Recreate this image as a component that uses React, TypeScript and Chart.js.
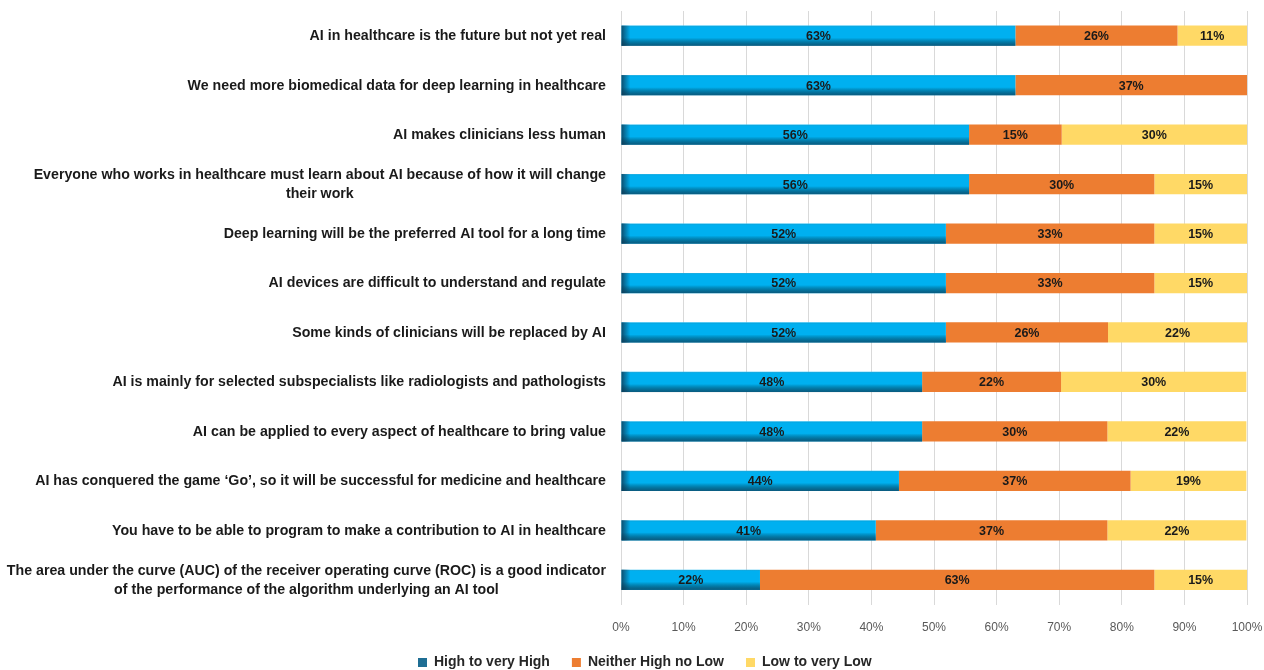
import React, { useEffect, useRef } from "react";
import { Chart, registerables } from "chart.js";

Chart.register(...registerables);

const categories: (string | string[])[] = [
  "AI in healthcare is the future but not yet real",
  "We need more biomedical data for deep learning in healthcare",
  "AI makes clinicians less human",
  ["Everyone who works in healthcare must learn about AI because of how it will change", "their work"],
  "Deep learning will be the preferred AI tool for a long time",
  "AI devices are difficult to understand and regulate",
  "Some kinds of clinicians will be replaced by AI",
  "AI is mainly for selected subspecialists like radiologists and pathologists",
  "AI can be applied to every aspect of healthcare to bring value",
  "AI has conquered the game \u2018Go\u2019, so it will be successful for medicine and healthcare",
  "You have to be able to program to make a contribution to AI in healthcare",
  ["The area under the curve (AUC) of the receiver operating curve (ROC) is a good indicator", "of the performance of the algorithm underlying an AI tool"],
];

const highValues = [63.0, 63.0, 55.6, 55.6, 51.9, 51.9, 51.9, 48.1, 48.1, 44.4, 40.7, 22.2];
const neitherValues = [25.9, 37.0, 14.8, 29.6, 33.3, 33.3, 25.9, 22.2, 29.6, 37.0, 37.0, 63.0];
const lowValues = [11.1, 0, 29.6, 14.8, 14.8, 14.8, 22.2, 29.6, 22.2, 18.5, 22.2, 14.8];

const seriesNames = ["High to very High", "Neither High no Low", "Low to very Low"];
const xTicks = [0, 10, 20, 30, 40, 50, 60, 70, 80, 90, 100];

const FONT = "'Liberation Sans', Arial, sans-serif";

const yLabelPlugin = {
  id: "yLabels",
  afterDraw(chart: any) {
    const ctx = chart.ctx;
    const y = chart.scales.y;
    const labels = chart.data.labels as (string | string[])[];
    ctx.save();
    ctx.font = `bold 14.2px ${FONT}`;
    ctx.fillStyle = "#1a1a1a";
    ctx.textBaseline = "middle";
    const rightX = chart.chartArea.left - 15;
    labels.forEach((lab, i) => {
      const lines = Array.isArray(lab) ? lab : [lab];
      const cy = y.getPixelForValue(i);
      const lh = 19;
      const startY = cy - ((lines.length - 1) * lh) / 2 + 0.5;
      const w1 = ctx.measureText(lines[0]).width;
      lines.forEach((line, j) => {
        if (j === 0) {
          ctx.textAlign = "right";
          ctx.fillText(line, rightX, startY);
        } else {
          ctx.textAlign = "center";
          ctx.fillText(line, rightX - w1 / 2, startY + j * lh);
        }
      });
    });
    ctx.restore();
  },
};

const shadePlugin = {
  id: "shade",
  afterDatasetDraw(chart: any, args: any) {
    if (args.index !== 0) return;
    const ctx = chart.ctx;
    const meta = chart.getDatasetMeta(0);
    ctx.save();
    meta.data.forEach((el: any) => {
      const { x, y, base, height } = el.getProps(["x", "y", "base", "height"], true);
      const left = Math.min(x, base);
      const right = Math.max(x, base);
      const top = y - height / 2;
      const bottom = y + height / 2;
      const g = ctx.createLinearGradient(0, top, 0, bottom);
      g.addColorStop(0, "rgba(255,255,255,0.25)");
      g.addColorStop(0.08, "rgba(0,0,0,0)");
      g.addColorStop(0.6, "rgba(0,0,0,0)");
      g.addColorStop(1, "rgba(15,55,80,0.7)");
      ctx.fillStyle = g;
      ctx.fillRect(left, top, right - left, bottom - top);
      const h = ctx.createLinearGradient(left, 0, left + 9, 0);
      h.addColorStop(0, "rgba(15,55,80,0.8)");
      h.addColorStop(1, "rgba(15,55,80,0)");
      ctx.fillStyle = h;
      ctx.fillRect(left, top, 9, bottom - top);
    });
    ctx.restore();
  },
};

const valueLabelPlugin = {
  id: "valueLabels",
  afterDatasetsDraw(chart: any) {
    const ctx = chart.ctx;
    ctx.save();
    ctx.font = `bold 12.5px ${FONT}`;
    ctx.fillStyle = "#1a1a1a";
    ctx.textAlign = "center";
    ctx.textBaseline = "middle";
    chart.data.datasets.forEach((ds: any, di: number) => {
      const meta = chart.getDatasetMeta(di);
      meta.data.forEach((el: any, i: number) => {
        const v = ds.data[i];
        if (!v) return;
        const { x, y, base } = el.getProps(["x", "y", "base"], true);
        ctx.fillText(Math.round(v) + "%", (x + base) / 2, y + 1);
      });
    });
    ctx.restore();
  },
};

export default function App() {
  const ref = useRef<HTMLCanvasElement | null>(null);
  useEffect(() => {
    document.body.style.margin = "0";
    const canvas = ref.current!;
    const chart = new Chart(canvas, {
      type: "bar",
      data: {
        labels: categories as any,
        datasets: [
          { label: seriesNames[0], data: highValues, backgroundColor: "#00B0F0" },
          { label: seriesNames[1], data: neitherValues, backgroundColor: "#ED7D31" },
          { label: seriesNames[2], data: lowValues, backgroundColor: "#FFD966" },
        ],
      },
      options: {
        indexAxis: "y",
        responsive: false,
        animation: false,
        datasets: { bar: { barPercentage: 0.41, categoryPercentage: 1 } },
        layout: { padding: { left: 396, right: 17, top: 11, bottom: -9.5 } },
        scales: {
          x: {
            stacked: true,
            min: 0,
            max: 100,
            afterBuildTicks: (s: any) => {
              s.ticks = xTicks.map((v) => ({ value: v }));
            },
            ticks: {
              callback: (v: any) => v + "%",
              color: "#595959",
              font: { family: FONT, size: 12 },
              padding: 16,
            },
            grid: { color: "#d9d9d9", drawTicks: false },
            border: { display: false },
            afterFit: (s: any) => {
              s.paddingRight = 0;
              s.paddingLeft = 0;
              s.height = 29;
            },
          },
          y: {
            stacked: true,
            ticks: { display: false },
            grid: { display: false },
            border: { display: false },
            afterFit: (s: any) => {
              s.width = 225;
            },
          },
        },
        plugins: {
          legend: {
            position: "bottom",
            align: "start",
            labels: {
              boxWidth: 9,
              boxHeight: 9,
              padding: 22,
              color: "#262626",
              font: { family: FONT, size: 14, weight: "bold" },
              generateLabels: (chart: any) => {
                const items = Chart.defaults.plugins.legend.labels.generateLabels(chart);
                items.forEach((it: any, i: number) => {
                  it.lineWidth = 0;
                  if (i === 0) {
                    it.fillStyle = "#1F6E94";
                  }
                });
                return items;
              },
            },
          },
          tooltip: { enabled: false },
        },
      },
      plugins: [shadePlugin, valueLabelPlugin, yLabelPlugin],
    } as any);
    return () => chart.destroy();
  }, []);
  return (
    <div style={{ width: 1264, height: 670 }}>
      <canvas ref={ref} width={1264} height={670} style={{ display: "block" }} />
    </div>
  );
}
